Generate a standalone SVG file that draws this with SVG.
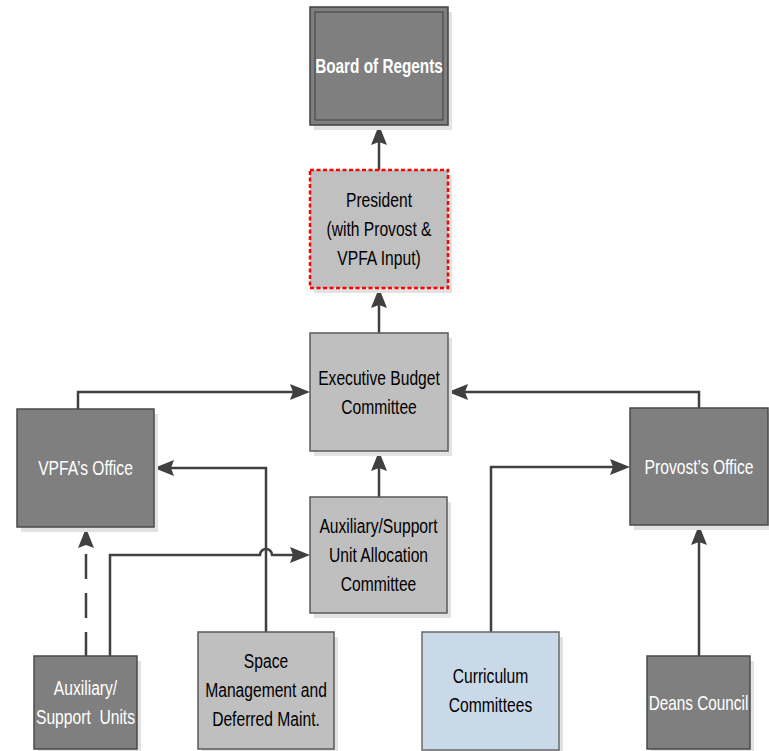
<svg xmlns="http://www.w3.org/2000/svg" width="769" height="751" viewBox="0 0 769 751">
<style>
.shadow{fill:#e2e2e2;}
.dark{fill:#7f7f7f;stroke:#4a4a4a;stroke-width:1.5;}
.light{fill:#bfbfbf;stroke:#5a5a5a;stroke-width:1.5;}
.blue{fill:#c9d9e8;stroke:#6a6a6a;stroke-width:1.5;}
.pres{fill:#c0c0c0;stroke:#ff0000;stroke-width:2.5;stroke-dasharray:4 2.5;}
.t{font-family:"Liberation Sans",Arial,sans-serif;font-size:21px;text-anchor:middle;}
.w{fill:#ffffff;}
.k{fill:#000000;}
.b{font-weight:bold;}
.conn{fill:none;stroke:#404040;stroke-width:2.5;}
.dash{stroke-dasharray:25 14;}
</style>
<defs>
<marker id="arr" markerUnits="userSpaceOnUse" viewBox="0 0 20 20" markerWidth="20" markerHeight="20" refX="10" refY="10" orient="auto">
<path d="M0,2 L20,10 L0,18 L3,10 z" fill="#404040"/>
</marker>
</defs>
<g id="connectors">
<path class="conn" d="M379,170 L379,135" marker-end="url(#arr)"/>
<path class="conn" d="M379,333 L379,298" marker-end="url(#arr)"/>
<path class="conn" d="M379,497 L379,461" marker-end="url(#arr)"/>
<path class="conn" d="M78,409 L78,392 L300,392" marker-end="url(#arr)"/>
<path class="conn" d="M699,408 L699,392 L458,392" marker-end="url(#arr)"/>
<path class="conn" d="M266,632 L266,468 L164,468" marker-end="url(#arr)"/>
<path class="conn" d="M110,656 L110,555 L260,555 A6,6 0 0 1 272,555 L300,555" marker-end="url(#arr)"/>
<path class="conn dash" d="M86,657 L86,538" marker-end="url(#arr)"/>
<path class="conn" d="M491,632 L491,467 L620,467" marker-end="url(#arr)"/>
<path class="conn" d="M699,656 L699,535" marker-end="url(#arr)"/>
</g>
<g id="board">
<rect class="shadow" x="314" y="12" width="138" height="118"/>
<rect class="dark" x="310" y="7" width="138" height="118" style="stroke:#404040"/>
<rect x="315" y="12" width="128" height="108" fill="none" stroke="#404040" stroke-width="1"/>
<text class="t w b" transform="translate(379,0) scale(0.73,1)"><tspan x="0" y="73.5">Board of Regents</tspan></text>
</g>
<g id="president">
<rect class="shadow" x="314" y="175" width="138" height="118"/>
<rect class="pres" x="310" y="170" width="138" height="118"/>
<text class="t k" transform="translate(379,0) scale(0.745,1)"><tspan x="0" y="207.5">President</tspan><tspan x="0" y="236.5">(with Provost &amp;</tspan><tspan x="0" y="265.5">VPFA Input)</tspan></text>
</g>
<g id="executive">
<rect class="shadow" x="314" y="338" width="138" height="118"/>
<rect class="light" x="310" y="333" width="138" height="118"/>
<text class="t k" transform="translate(379,0) scale(0.745,1)"><tspan x="0" y="385.5">Executive Budget</tspan><tspan x="0" y="414.5">Committee</tspan></text>
</g>
<g id="auxalloc">
<rect class="shadow" x="314" y="502" width="137" height="116"/>
<rect class="light" x="310" y="497" width="137" height="116"/>
<text class="t k" transform="translate(378.5,0) scale(0.745,1)"><tspan x="0" y="533.5">Auxiliary/Support</tspan><tspan x="0" y="562.5">Unit Allocation</tspan><tspan x="0" y="591.5">Committee</tspan></text>
</g>
<g id="vpfa">
<rect class="shadow" x="21" y="414" width="137" height="118"/>
<rect class="dark" x="17" y="409" width="137" height="118"/>
<text class="t w" transform="translate(85.5,0) scale(0.745,1)"><tspan x="0" y="475.5">VPFA’s Office</tspan></text>
</g>
<g id="provost">
<rect class="shadow" x="634" y="413" width="138" height="117"/>
<rect class="dark" x="630" y="408" width="138" height="117"/>
<text class="t w" transform="translate(699,0) scale(0.745,1)"><tspan x="0" y="474">Provost’s Office</tspan></text>
</g>
<g id="auxunits">
<rect class="shadow" x="38" y="661" width="103" height="93"/>
<rect class="dark" x="34" y="656" width="103" height="93"/>
<text class="t w" transform="translate(85.5,0) scale(0.745,1)"><tspan x="0" y="695.5">Auxiliary/</tspan><tspan x="0" y="724.5">Support&#160; Units</tspan></text>
</g>
<g id="space">
<rect class="shadow" x="202" y="637" width="136" height="117"/>
<rect class="light" x="198" y="632" width="136" height="117"/>
<text class="t k" transform="translate(266,0) scale(0.745,1)"><tspan x="0" y="668.5">Space</tspan><tspan x="0" y="697.5">Management and</tspan><tspan x="0" y="726.5">Deferred Maint.</tspan></text>
</g>
<g id="curriculum">
<rect class="shadow" x="426" y="637" width="137" height="118"/>
<rect class="blue" x="422" y="632" width="137" height="118"/>
<text class="t k" transform="translate(490.5,0) scale(0.745,1)"><tspan x="0" y="683.5">Curriculum</tspan><tspan x="0" y="712.5">Committees</tspan></text>
</g>
<g id="deans">
<rect class="shadow" x="651" y="661" width="103" height="93"/>
<rect class="dark" x="647" y="656" width="103" height="93"/>
<text class="t w" transform="translate(698.5,0) scale(0.73,1)"><tspan x="0" y="710">Deans Council</tspan></text>
</g>
</svg>
